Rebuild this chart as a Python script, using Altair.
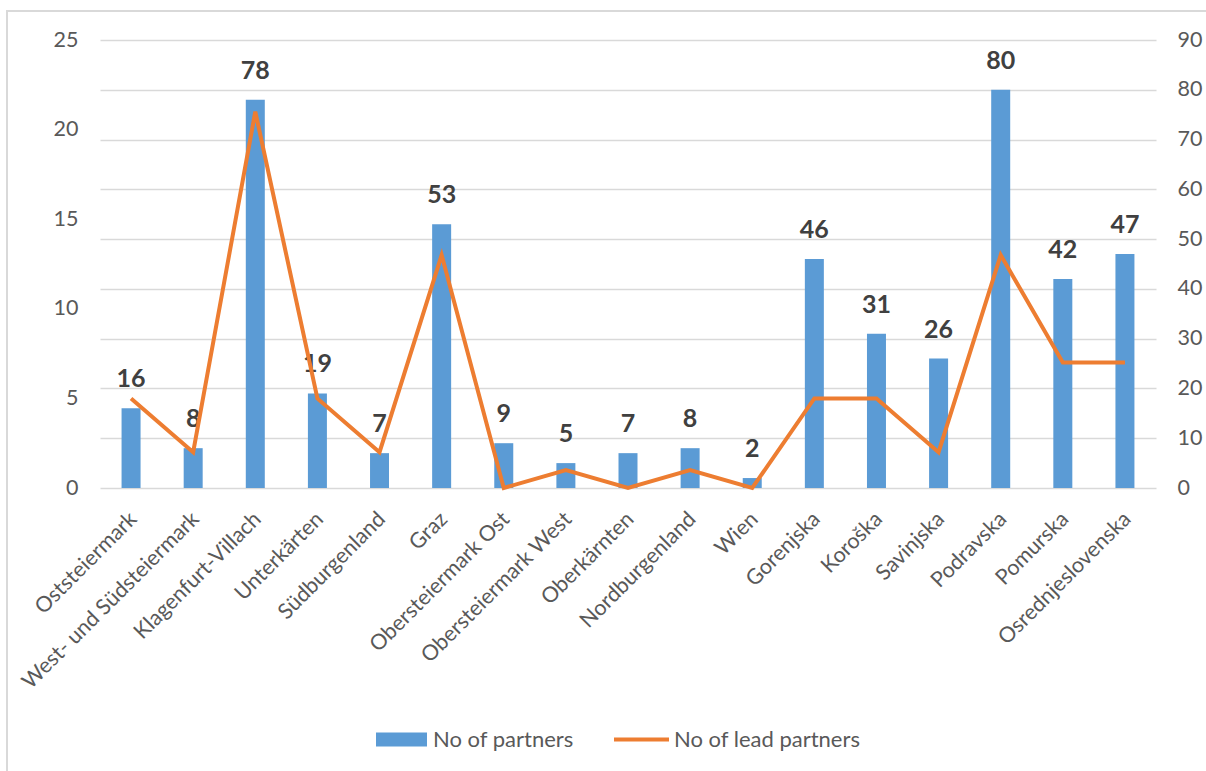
import altair as alt
import pandas as pd

regions = ["Oststeiermark", "West- und Südsteiermark", "Klagenfurt-Villach", "Unterkärten",
           "Südburgenland", "Graz", "Obersteiermark Ost", "Obersteiermark West", "Oberkärnten",
           "Nordburgenland", "Wien", "Gorenjska", "Koroška", "Savinjska", "Podravska",
           "Pomurska", "Osrednjeslovenska"]
partners = [16, 8, 78, 19, 7, 53, 9, 5, 7, 8, 2, 46, 31, 26, 80, 42, 47]
lead_partners = [5, 2, 21, 5, 2, 13, 0, 1, 0, 1, 0, 5, 5, 2, 13, 7, 7]
right_ticks = [0, 10, 20, 30, 40, 50, 60, 70, 80, 90]
left_ticks = [0, 5, 10, 15, 20, 25]

df = pd.DataFrame({
    "region": regions,
    "partners": partners,
    "lead": lead_partners,
    "s1": "No of partners",
    "s2": "No of lead partners",
})

FONT = "Lato"
GRAY = "#595959"

x = alt.X("region:N", sort=regions,
          scale=alt.Scale(paddingInner=0, paddingOuter=0),
          axis=alt.Axis(title=None, labelAngle=-45, labelFontSize=21.5, labelColor=GRAY,
                        labelFont=FONT, domain=False, ticks=False, labelPadding=20,
                        labelOffset=-5, labelLimit=400))

yscale_r = alt.Scale(domain=[0, 90], nice=False)
base = alt.Chart(df)

bars = base.mark_bar(size=19).encode(
    x=x,
    y=alt.Y("partners:Q", scale=yscale_r,
            axis=alt.Axis(orient="right", values=right_ticks, grid=True, gridColor="#D9D9D9",
                          gridWidth=1.3, domain=False, ticks=False, labelFontSize=21.5,
                          labelColor=GRAY, labelFont=FONT, labelPadding=21, title=None)),
    fill=alt.Fill("s1:N", scale=alt.Scale(domain=["No of partners"], range=["#5B9BD5"]),
                  legend=alt.Legend(title=None, orient="none", legendX=276, legendY=674,
                                    symbolType="M-1,-0.275L1,-0.275L1,0.275L-1,0.275Z",
                                    symbolSize=2601, symbolStrokeWidth=0, labelFontSize=22,
                                    labelColor=GRAY, labelFont=FONT, labelOffset=6,
                                    labelLimit=400)),
)

text = base.mark_text(baseline="alphabetic", dy=-21, fontSize=25, fontWeight="bold",
                      font=FONT, color="#404040").encode(
    x=x,
    y=alt.Y("partners:Q", scale=yscale_r),
    text="partners:Q",
)

line = base.mark_line(strokeWidth=4).encode(
    x=x,
    y=alt.Y("lead:Q", scale=alt.Scale(domain=[0, 25], nice=False),
            axis=alt.Axis(orient="left", values=left_ticks, grid=False, domain=False,
                          ticks=False, labelFontSize=21.5, labelColor=GRAY, labelFont=FONT,
                          labelPadding=22, title=None)),
    stroke=alt.Stroke("s2:N", scale=alt.Scale(domain=["No of lead partners"], range=["#ED7D31"]),
                      legend=alt.Legend(title=None, orient="none", legendX=512, legendY=670,
                                        symbolType="stroke", symbolSize=3025,
                                        symbolStrokeWidth=4, labelFontSize=22,
                                        labelColor=GRAY, labelFont=FONT, labelOffset=3,
                                        labelLimit=400)),
)

border = alt.Chart(pd.DataFrame({"a": [0]})).mark_rect(
    fill="transparent", stroke="#D9D9D9", strokeWidth=2
).encode(x=alt.value(-93), x2=alt.value(1140), y=alt.value(-29), y2=alt.value(760))

chart = alt.layer(alt.layer(bars, text), line, border).resolve_scale(y="independent").properties(
    width=1056, height=448,
    padding={"left": 100, "top": 40, "right": 50, "bottom": 283},
    autosize=alt.AutoSizeParams(type="none"),
    background="white",
).configure_view(strokeWidth=0)

chart.save("out.html", embed_options={"renderer": "svg", "actions": False})
